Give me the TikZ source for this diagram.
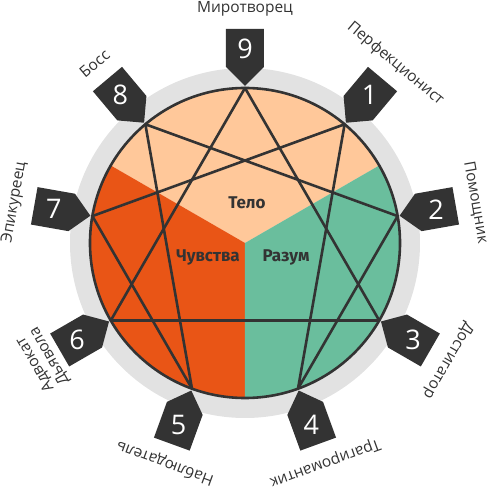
\documentclass[tikz,border=0pt]{standalone}
\usepackage{fontspec}
\setmainfont{Open Sans}
\newfontfamily\centerfont{Fira Sans}
\definecolor{dk}{HTML}{333333}
\definecolor{ring}{HTML}{E2E2E2}
\definecolor{peach}{HTML}{FFC89A}
\definecolor{orng}{HTML}{E95516}
\definecolor{grn}{HTML}{6ABE9D}
\begin{document}
\begin{tikzpicture}[x=1pt,y=1pt,
  num/.style={text=white,font=\fontsize{27}{27}\selectfont,inner sep=0pt},
  lab/.style={text=dk,font=\fontsize{15.5}{16.5}\selectfont,align=center,inner sep=0pt},
  mid/.style={text=dk,font=\centerfont\bfseries\fontsize{17}{18}\selectfont,inner sep=0pt},
  star/.style={draw=dk,line width=2.6pt,line join=round},
  badge/.style={fill=dk}]
\useasboundingbox (-245,-249) rectangle (248,243);
\fill[ring] (0,0) circle (175);
\fill[peach] (0,0) -- (30:155) arc[start angle=30,end angle=150,radius=155] -- cycle;
\fill[orng] (0,0) -- (150:155) arc[start angle=150,end angle=270,radius=155] -- cycle;
\fill[grn] (0,0) -- (270:155) arc[start angle=270,end angle=390,radius=155] -- cycle;
\node[mid] (telo) at (2,40) {Тело};
\node[mid] (chuv) at (-37,-14) {Чувства};
\node[mid] (razum) at (41,-14) {Разум};
\foreach \k in {0,...,8} { \coordinate (p\k) at ({90-40*\k}:155); }
\draw[star] (p0) -- (p3) -- (p6) -- cycle;
\draw[star] (p1) -- (p4) -- (p2) -- (p8) -- (p5) -- (p7) -- cycle;
\draw[dk,line width=2.6pt] (0,0) circle (155);
\foreach \k/\n/\t in {0/9/Миротворец,1/1/Перфекционист,2/2/Помощник,3/3/Достигатор,4/4/Трагиромантик,5/5/Наблюдатель,6/6/{Адвокат\\Дьявола},7/7/Эпикуреец,8/8/Босс} {
  \begin{scope}[rotate=-40*\k]
    \fill[badge] (0,157) -- (-19,176) -- (-19,214) -- (19,214) -- (19,176) -- cycle;
    \node[num] (n\n) at (0,194) {\n};
  \end{scope}
  \node[lab,rotate=-40*\k] (l\n) at ({90-40*\k}:234) {\t};
}
\end{tikzpicture}
\end{document}
